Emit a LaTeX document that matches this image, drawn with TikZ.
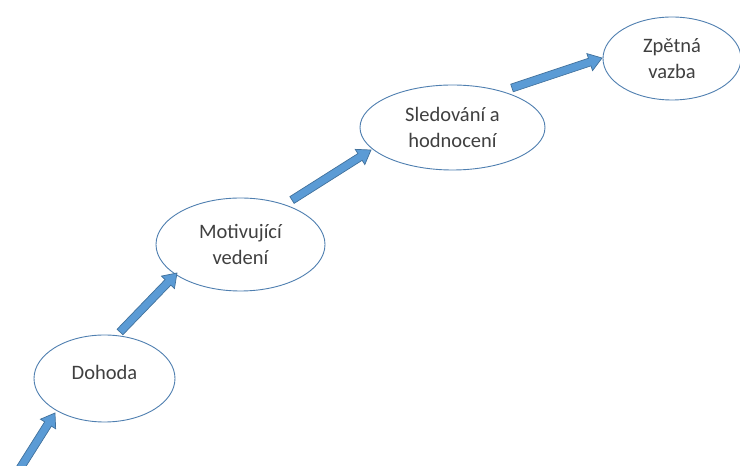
\documentclass[tikz,border=0pt]{standalone}
\usepackage{fontspec}
\setmainfont{Carlito}
\usetikzlibrary{calc,shapes.geometric}
\definecolor{arrfill}{HTML}{5B9BD5}
\definecolor{arrline}{HTML}{41719C}
\definecolor{ellline}{HTML}{4F7FB0}
\definecolor{txt}{HTML}{404040}
\newcommand\blockarr[2]{%
  \coordinate (ba-a) at (#1);
  \coordinate (ba-b) at (#2);
  \coordinate (ba-h) at ($(ba-b)!13pt!(ba-a)$);
  \filldraw[blockarrow] ($(ba-a)!4pt!90:(ba-b)$) -- ($(ba-h)!4pt!90:(ba-b)$)
    -- ($(ba-h)!9pt!90:(ba-b)$) -- (ba-b) -- ($(ba-h)!9pt!-90:(ba-b)$)
    -- ($(ba-h)!4pt!-90:(ba-b)$) -- ($(ba-a)!4pt!-90:(ba-b)$) -- cycle;
}
\begin{document}
\begin{tikzpicture}[x=1pt,y=1pt,
  stepell/.style={ellipse, draw=ellline, line width=0.9pt, fill=white,
    inner sep=0pt, text=txt, align=center,
    font=\fontsize{20.5}{26.5}\selectfont},
  blockarrow/.style={fill=arrfill, draw=arrline, line width=0.7pt, line join=miter}]
\useasboundingbox (0,0) rectangle (740,466);
\node[stepell, minimum width=141, minimum height=87] (dohoda) at (104.5,87.5)
  {\vphantom{Dohoda}\smash{\raisebox{6pt}{Dohoda}}};
\node[stepell, minimum width=169, minimum height=93] (motiv) at (240.5,221.5) {Motivující\\vedení};
\node[stepell, minimum width=185, minimum height=85] (sled) at (452.5,338.5) {Sledování a\\hodnocení};
\node[stepell, minimum width=138, minimum height=83] (zpet) at (672,407.5) {Zpětná\\vazba};
\coordinate (start) at (19,-4);
\blockarr{start}{$(dohoda.center)+(-49.5,-34.5)$}
\blockarr{$(dohoda.center)+(15.5,46.5)$}{$(motiv.center)+(-63.5,-28.5)$}
\blockarr{$(motiv.center)+(51.5,44.5)$}{$(sled.center)+(-81.5,-22.5)$}
\blockarr{$(sled.center)+(59.5,39.5)$}{$(zpet.center)+(-70,0.5)$}
\end{tikzpicture}
\end{document}
